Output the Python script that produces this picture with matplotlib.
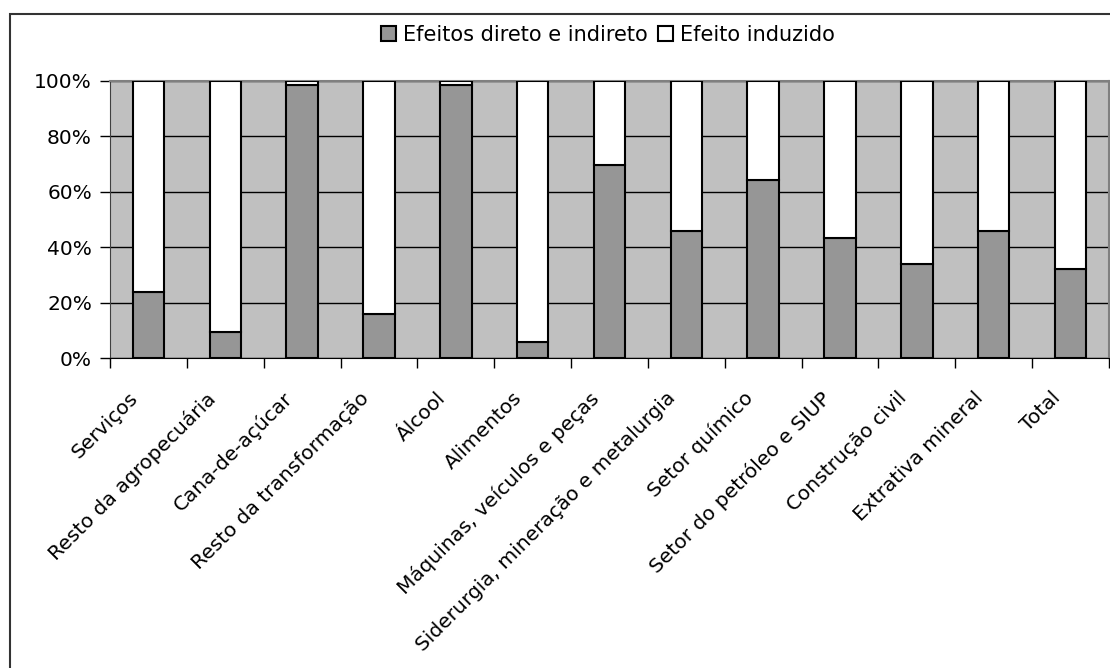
import matplotlib
matplotlib.use("Agg")
import matplotlib.pyplot as plt
import matplotlib.patches as mpatches
import matplotlib.transforms as mtransforms
import numpy as np

plt.rcParams.update({"font.family": "DejaVu Sans", "font.size": 14.5})

# Dati (quota percentuale per settore)
setores = [
    "Serviços",
    "Resto da agropecuária",
    "Cana-de-açúcar",
    "Resto da transformação",
    "Álcool",
    "Alimentos",
    "Máquinas, veículos e peças",
    "Siderurgia, mineração e metalurgia",
    "Setor químico",
    "Setor do petróleo e SIUP",
    "Construção civil",
    "Extrativa mineral",
    "Total",
]
direto_indireto = [23.7, 9.3, 98.6, 16.0, 98.6, 5.6, 69.5, 45.8, 64.4, 43.3, 34.0, 45.8, 32.3]
induzido = [100 - v for v in direto_indireto]

fig = plt.figure(figsize=(11.1, 6.68), dpi=100)

# bordo esterno del grafico (tagliato a destra e in basso)
fig.patches.append(
    mpatches.Rectangle(
        (10 / 1110, -0.05), 1.2, 1 - 14 / 668 + 0.05,
        transform=fig.transFigure, fill=False, edgecolor="#333333", linewidth=1.5,
    )
)

ax = fig.add_axes([110 / 1110, 310 / 668, 999 / 1110, 277 / 668])
ax.set_facecolor("#C0C0C0")

x = np.arange(len(setores))
w = 0.41
b1 = ax.bar(x, direto_indireto, w, color="#969696", edgecolor="black", linewidth=1.5,
            label="Efeitos direto e indireto", zorder=3)
b2 = ax.bar(x, induzido, w, bottom=direto_indireto, color="white", edgecolor="black",
            linewidth=1.5, label="Efeito induzido", zorder=3)

ax.set_xlim(-0.5, len(setores) - 0.5)
ax.set_ylim(0, 100)
ax.set_yticks(np.arange(0, 101, 20))
ax.set_yticklabels([f"{v}%" for v in range(0, 101, 20)])
ax.grid(axis="y", color="black", linewidth=1, zorder=1)
ax.set_axisbelow(True)

ax.set_xticks(x)
ax.set_xticklabels(setores, rotation=45, ha="right", rotation_mode="anchor")
ax.set_xticks(np.arange(-0.5, len(setores)), minor=True)
ax.tick_params(axis="x", which="major", length=0, pad=22)
ax.tick_params(axis="x", which="minor", length=7, width=1, color="black")
ax.tick_params(axis="y", length=7, width=1, pad=6)

# sposta le etichette un po' a sinistra
offset = mtransforms.ScaledTranslation(-20 / 100, 0, fig.dpi_scale_trans)
for lab in ax.get_xticklabels():
    lab.set_transform(lab.get_transform() + offset)

for s in ["top", "right"]:
    ax.spines[s].set_color("#808080")
    ax.spines[s].set_linewidth(1.5)
ax.spines["left"].set_color("#404040")
ax.spines["bottom"].set_color("black")

fig.legend(
    handles=[b1, b2],
    loc="center",
    bbox_to_anchor=(608 / 1110, 1 - 35 / 668),
    ncol=2,
    frameon=False,
    handlelength=0.7,
    handleheight=0.7,
    handletextpad=0.35,
    columnspacing=0.5,
    fontsize=15,
)

plt.savefig("out.png", dpi=100)
plt.close()
